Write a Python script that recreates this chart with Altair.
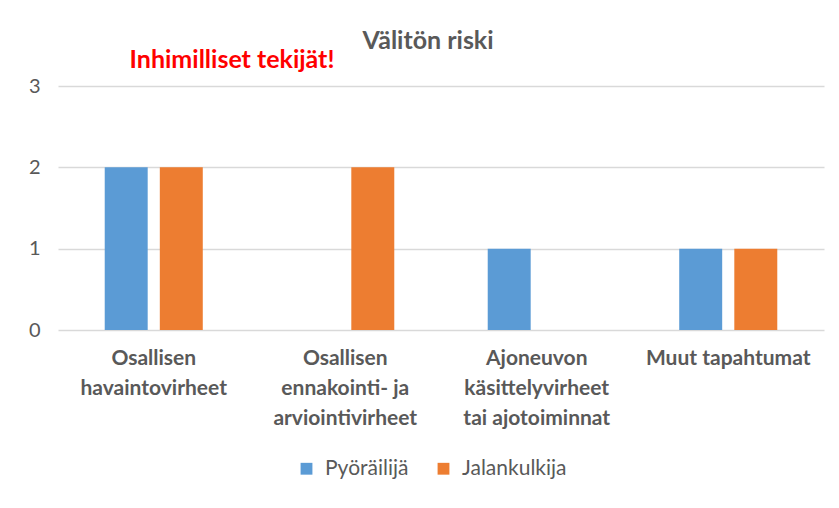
import altair as alt
import pandas as pd

categories = [
    "Osallisen\nhavaintovirheet",
    "Osallisen\nennakointi- ja\narviointivirheet",
    "Ajoneuvon\nkäsittelyvirheet\ntai ajotoiminnat",
    "Muut tapahtumat",
]
series = ["Pyöräilijä", "Jalankulkija"]
pyorailija = [2, 0, 1, 1]
jalankulkija = [2, 2, 0, 1]
colors = ["#5B9BD5", "#ED7D31"]
y_ticks = [0, 1, 2, 3]
title_text = "Välitön riski"
annotation = "Inhimilliset tekijät!"

rows = []
for c, a, b in zip(categories, pyorailija, jalankulkija):
    rows.append({"cat": c, "series": series[0], "value": a})
    rows.append({"cat": c, "series": series[1], "value": b})
df = pd.DataFrame(rows)

FONT = "Lato"
GREY = "#595959"

bars = alt.Chart(df).mark_bar().encode(
    x=alt.X("cat:N", sort=categories, title=None,
            scale=alt.Scale(paddingInner=0.488, paddingOuter=0.244),
            axis=alt.Axis(labelAngle=0, labelExpr="split(datum.label, '\\n')",
                          labelFont=FONT, labelFontSize=21, labelFontWeight="bold",
                          labelColor=GREY, labelLineHeight=30, labelPadding=17,
                          domain=False, ticks=False, labelLimit=300)),
    xOffset=alt.XOffset("series:N", sort=series,
                        scale=alt.Scale(paddingInner=0.22, paddingOuter=0)),
    y=alt.Y("value:Q", title=None, scale=alt.Scale(domain=[0, 3]),
            axis=alt.Axis(values=y_ticks, format="d", labelFont=FONT, labelFontSize=20,
                          labelColor=GREY, labelPadding=18, domain=False, ticks=False,
                          gridColor="#D9D9D9", gridWidth=1.5)),
    color=alt.Color("series:N", sort=series,
                    scale=alt.Scale(domain=series, range=colors),
                    legend=alt.Legend(title=None, orient="none", direction="horizontal",
                                      legendX=238, legendY=372, symbolType="square",
                                      symbolSize=140, symbolStrokeWidth=0,
                                      labelFont=FONT, labelFontSize=21, labelColor=GREY,
                                      columnPadding=24, labelOffset=8)),
)

note = alt.Chart(pd.DataFrame({"t": [annotation]})).mark_text(
    font=FONT, fontSize=25, fontWeight="bold", color="#FF0000",
    align="center", baseline="middle"
).encode(text="t:N", x=alt.value(174), y=alt.value(-26))

head = alt.Chart(pd.DataFrame({"t": [title_text]})).mark_text(
    font=FONT, fontSize=25, fontWeight="bold", color=GREY,
    align="center", baseline="middle"
).encode(text="t:N", x=alt.value(370), y=alt.value(-45))

chart = alt.layer(bars, note, head).properties(
    width=766, height=244,
    autosize=alt.AutoSizeParams(type="none"),
    padding={"left": 50, "top": 78, "right": 7, "bottom": 160},
).configure_view(stroke=None)

chart.save("out.html", embed_options={"renderer": "svg", "actions": False})
